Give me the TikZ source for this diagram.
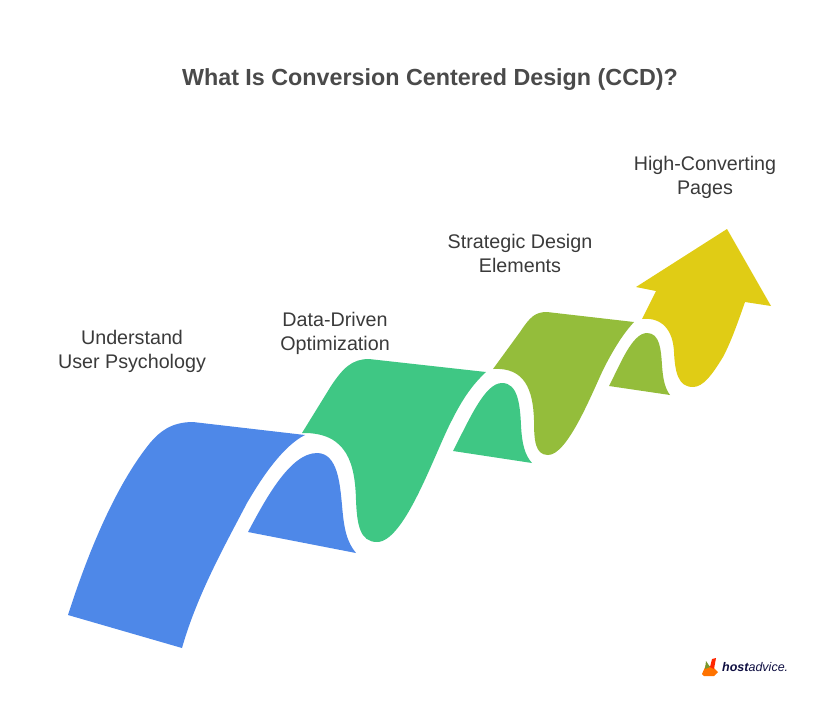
\documentclass[tikz,border=0pt]{standalone}
\usepackage{fontspec}
\setmainfont{Liberation Sans}
\usepackage{tkz-euclide}
\definecolor{ccdblue}{HTML}{4E88E8}
\definecolor{ccdgreen}{HTML}{3FC784}
\definecolor{ccdolive}{HTML}{94BD3B}
\definecolor{ccdyellow}{HTML}{E0CC15}
\definecolor{ccdtext}{HTML}{3A3A3A}
\definecolor{ccdtitle}{HTML}{4A4A4A}
\tikzset{
  steplabel/.style={text=ccdtext,align=center,font=\fontsize{19.7}{24}\selectfont},
  titlelabel/.style={text=ccdtitle,font=\fontsize{23.3}{28}\selectfont\bfseries},
}
\begin{document}
\begin{tikzpicture}[x=1pt,y=-1pt]
    \useasboundingbox (0,0) rectangle (840,724);
    % corners of the ribbon
    \tkzDefPoint(68,615){A}
    \tkzDefPoint(182,648){B}
    \tkzDefPoint(305,435){C}
    \tkzDefPoint(248,532){D}
    \tkzDefPoint(356,553){E}
    \tkzDefPoint(302,433){F}
    \tkzDefPoint(486,372){G}
    \tkzDefPoint(453,451){H}
    \tkzDefPoint(532,463){I}
    \tkzDefPoint(493,369){J}
    \tkzDefPoint(634,322){K}
    \tkzDefPoint(609,386){L}
    \tkzDefPoint(670,395){M}
    \tkzDefPoint(642,319){N}
    % blue
    \fill[ccdblue] (A) .. controls (92,540) and (120,480) .. (150,443)
        .. controls (160,431) and (172,422) .. (193,422) -- (C)
        .. controls (285,445) and (265,472) .. (247,503)
        .. controls (225,545) and (197,595) .. (B) -- cycle;
    \fill[ccdblue] (D) .. controls (265,500) and (290,453) .. (317,453)
        .. controls (338,453) and (340,485) .. (342,505)
        .. controls (344,530) and (347,542) .. (E) -- cycle;
    % green
    \fill[ccdgreen] (F) -- (331,386)
        .. controls (343,368) and (352,359) .. (369,359) -- (G)
        .. controls (472,385) and (462,400) .. (452,420)
        .. controls (435,452) and (405,542) .. (377,542)
        .. controls (360,542) and (357,525) .. (356,500)
        .. controls (355,465) and (348,432) .. (F);
    \fill[ccdgreen] (H) .. controls (470,418) and (485,383) .. (502,383)
        .. controls (518,383) and (520,405) .. (521,425)
        .. controls (522,445) and (525,455) .. (I) -- cycle;
    % olive
    \fill[ccdolive] (J) -- (520,332)
        .. controls (530,317) and (535,312) .. (547,312) -- (K)
        .. controls (622,335) and (612,352) .. (603,370)
        .. controls (590,398) and (567,455) .. (548,455)
        .. controls (535,455) and (534,440) .. (534,420)
        .. controls (533,390) and (525,367) .. (J);
    \fill[ccdolive] (L) .. controls (620,365) and (632,333) .. (647,333)
        .. controls (660,333) and (661,350) .. (662,365)
        .. controls (663,380) and (665,388) .. (M) -- cycle;
    % yellow
    \fill[ccdyellow] (N) -- (656,291) -- (636,287) -- (727,229) -- (771,306) -- (745,302)
        .. controls (738,322) and (731,342) .. (723,357)
        .. controls (712,375) and (703,387) .. (693,387)
        .. controls (678,387) and (675,372) .. (674,352)
        .. controls (673,330) and (662,317) .. (N);
    \node[titlelabel] (title) at (430,79.5) {What Is Conversion Centered Design (CCD)?};
    \node[steplabel] (understand) at (132,351) {Understand\\User Psychology};
    \node[steplabel] (datadriven) at (335,333) {Data-Driven\\Optimization};
    \node[steplabel] (strategic) at (520,253) {Strategic Design\\Elements};
    \node[steplabel] (highconv) at (705,177) {High-Converting\\Pages};
    % logo
    \fill[orange!90!red] (702,674) -- (706,665) -- (713,667) -- (718,672) -- (714,676) -- (704,676) -- cycle;
    \fill[red!70!orange] (712,659) -- (716,658) -- (714,669) -- (710,667) -- cycle;
    \fill[ccdolive!80!black] (706,661) -- (710,667) -- (705,669) -- cycle;
    \node[text=ccdtitle!50!blue!40!black,inner sep=0pt,anchor=west,font=\fontsize{12.5}{14}\selectfont\itshape] (logo) at (722,667) {\textbf{host}advice.};
\end{tikzpicture}
\end{document}
